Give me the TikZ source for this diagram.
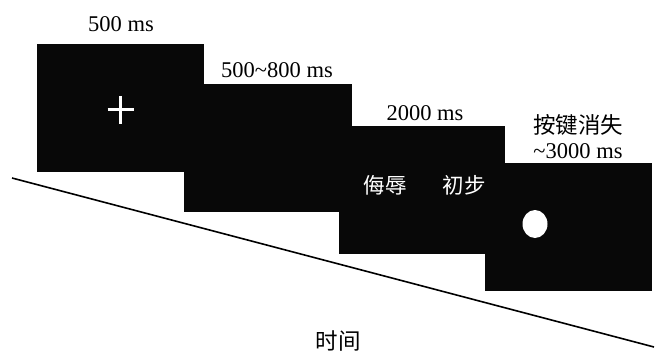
\documentclass[tikz,border=0pt]{standalone}
\usepackage{fontspec}
\usetikzlibrary{shapes.geometric}
\setmainfont{Liberation Serif}
\newfontfamily\cjk{Noto Sans CJK SC}
\begin{document}
\begin{tikzpicture}[x=1pt,y=-1pt,
  screen/.style={fill=black!97, draw=none, anchor=north west, minimum height=128pt, inner sep=0pt, outer sep=0pt},
  lbl/.style={font=\fontsize{22.5}{26}\selectfont, inner sep=0pt, text=black},
  cn/.style={font=\cjk\fontsize{22.5}{26}\selectfont, inner sep=0pt},
  stim/.style={font=\cjk\fontsize{21.5}{24}\selectfont, inner sep=0pt, text=white}]
\useasboundingbox (0,0) rectangle (656,351);
% screens
\node[screen, minimum width=167pt] (s1) at (37,44) {};
\node[screen, minimum width=168pt] (s2) at (184,84) {};
\node[screen, minimum width=166pt] (s3) at (339,126) {};
\node[screen, minimum width=167pt] (s4) at (485,163) {};
% labels
\node[lbl] (l1) at (121,24) {500 ms};
\node[lbl] (l2) at (277,70) {500\textasciitilde800 ms};
\node[lbl] (l3) at (425,113) {2000 ms};
\node[cn] (l4a) at (578,125) {按键消失};
\node[lbl] (l4b) at (578,151) {\textasciitilde3000 ms};
% fixation cross
\coordinate (cc) at (120.5,109.5);
\draw[white, line width=2.4pt] ([xshift=-13pt]cc) -- ([xshift=13pt]cc);
\draw[white, line width=2.4pt] ([yshift=-14pt]cc) -- ([yshift=14pt]cc);
% words
\node[stim] (w1) at (385,185) {侮辱};
\node[stim] (w2) at (464,185) {初步};
% dot
\node[ellipse, fill=white, minimum width=25pt, minimum height=28pt, inner sep=0pt] (dot) at (535,224) {};
% time axis
\coordinate (ta) at (12,178);
\coordinate (tb) at (654,347);
\draw[line width=1.6pt] (ta) -- (tb);
\node[cn] (t) at (338,341) {时间};
\end{tikzpicture}
\end{document}
